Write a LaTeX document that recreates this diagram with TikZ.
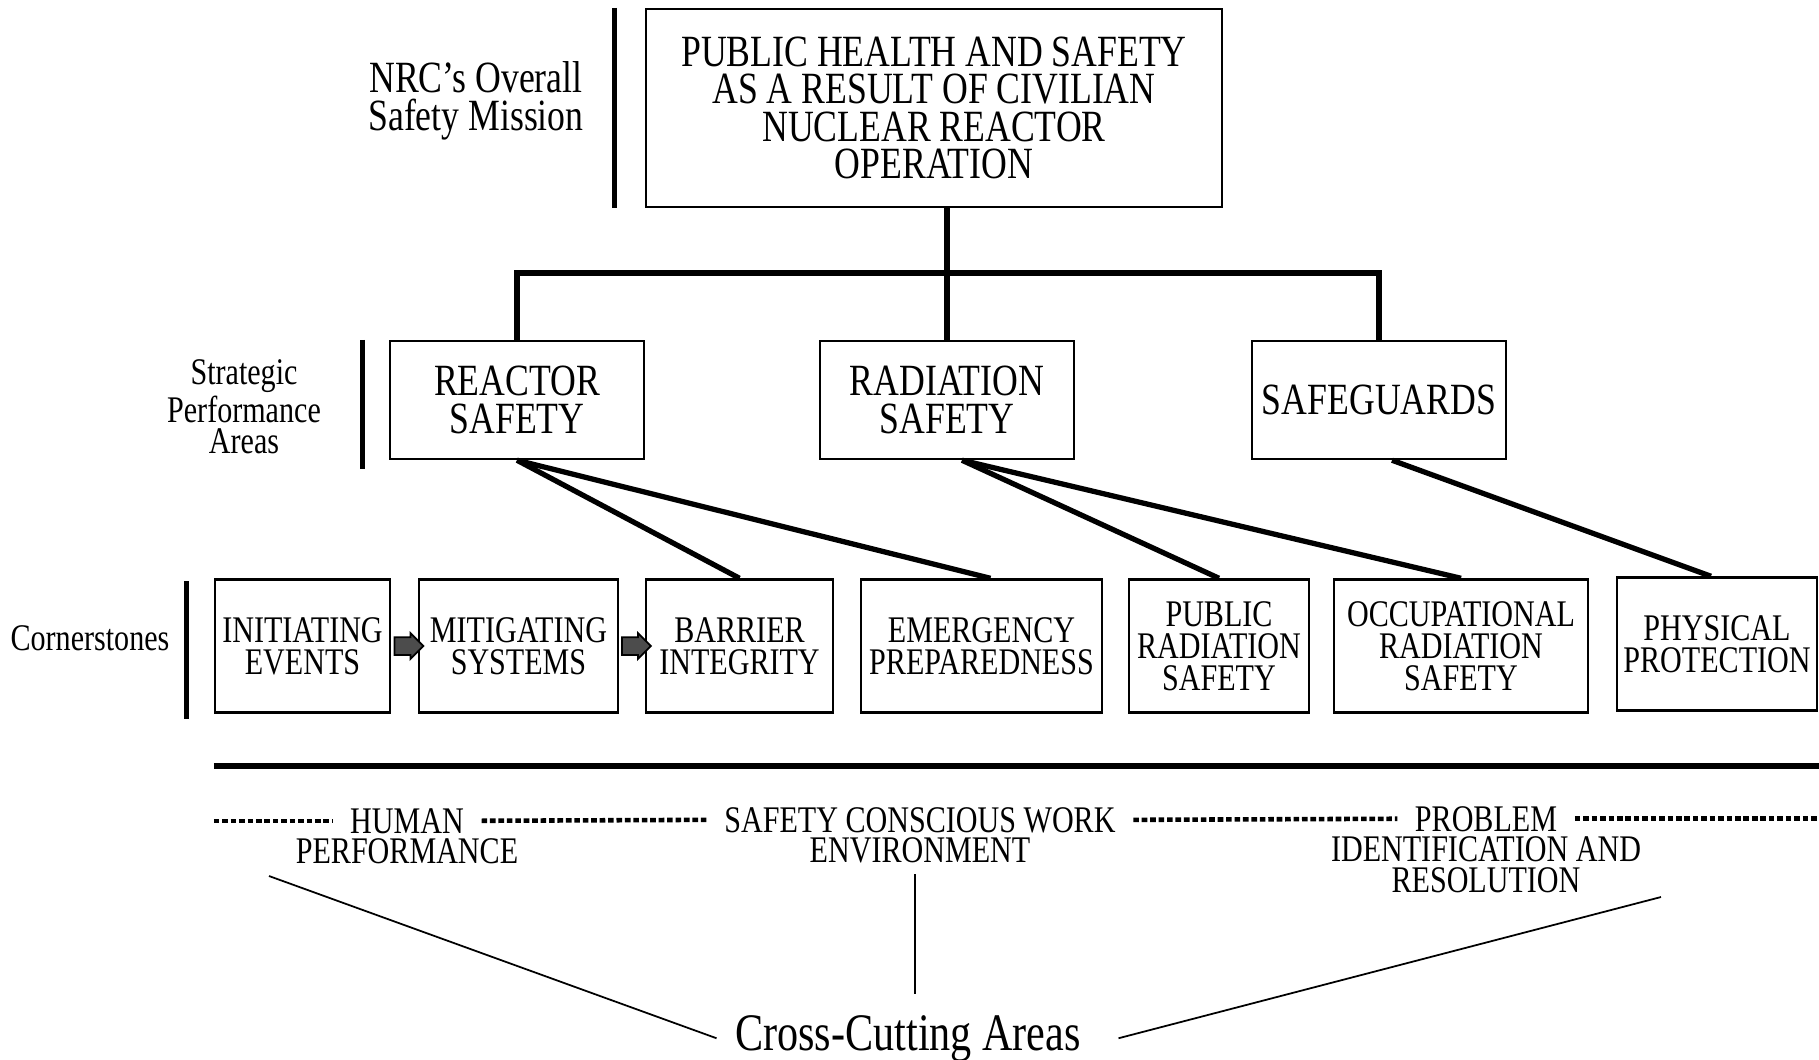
\documentclass[tikz,border=0pt]{standalone}
\usepackage{fontspec}
\setmainfont{Liberation Serif}[FakeStretch=0.8]
\usetikzlibrary{positioning,shapes.arrows,calc}

\tikzset{
  bigtext/.style={font=\fontsize{12.7}{10.7}\selectfont},
  smalltext/.style={font=\fontsize{10.7}{9.1}\selectfont},
  areabox/.style={draw, line width=0.7pt, align=center, inner sep=0pt, minimum width=2.54cm, minimum height=1.18cm, bigtext},
  stonebox/.style={draw, line width=0.7pt, align=center, inner sep=0pt, minimum height=1.33cm, smalltext},
  link/.style={line width=1.5pt},
  thinlink/.style={line width=0.5pt},
  levelbar/.style={line width=1.4pt},
  dashline/.style={line width=1.3pt, dash pattern=on 1.6pt off 0.8pt},
  blockarrow/.style={single arrow, draw, fill=black!70, line width=0.5pt, minimum height=2.9mm, inner sep=0.8mm, single arrow head extend=0.4mm},
  crosstext/.style={smalltext, anchor=base, inner xsep=1.7mm, inner ysep=0pt}
}

\begin{document}
\begin{tikzpicture}
  \useasboundingbox (0,0) rectangle (18.19,-10.59);

  % Overall safety mission
  \node[draw, line width=0.7pt, minimum width=5.76cm, minimum height=1.98cm, align=center, inner sep=0pt, bigtext] (mission) at (9.34,-1.08) {PUBLIC HEALTH AND SAFETY\\AS A RESULT OF CIVILIAN\\NUCLEAR REACTOR\\OPERATION};
  \draw[levelbar] ([xshift=-3mm]mission.north west) -- ([xshift=-3mm]mission.south west);
  \node[bigtext, align=center] (missionlbl) at (4.76,-1.01) {NRC's Overall\\Safety Mission};

  % Strategic performance areas
  \node[areabox] (reactor) at (5.17,-4.0) {REACTOR\\SAFETY};
  \node[areabox] (radiation) at (9.47,-4.0) {RADIATION\\SAFETY};
  \node[areabox] (safeguards) at (13.79,-4.0) {SAFEGUARDS};
  \draw[levelbar] ([xshift=-2.6mm]reactor.north west) -- ([xshift=-2.6mm,yshift=-0.9mm]reactor.south west);
  \node[font=\fontsize{10.7}{8.9}\selectfont, align=center] (arealbl) at (2.44,-4.07) {Strategic\\Performance\\Areas};

  % Tree from the mission box
  \coordinate (branch) at (9.47,-2.73);
  \draw[link] (mission.south -| radiation.north) -- (radiation.north);
  \draw[link] (reactor.north) |- (branch) -| (safeguards.north);

  % Cornerstones
  \node[stonebox, minimum width=1.75cm] (initiating) at (3.025,-6.46) {INITIATING\\EVENTS};
  \node[stonebox, minimum width=1.99cm] (mitigating) at (5.185,-6.46) {MITIGATING\\SYSTEMS};
  \node[stonebox, minimum width=1.87cm] (barrier) at (7.395,-6.46) {BARRIER\\INTEGRITY};
  \node[stonebox, minimum width=2.41cm] (emergency) at (9.815,-6.46) {EMERGENCY\\PREPAREDNESS};
  \node[stonebox, minimum width=1.80cm] (pubrad) at (12.19,-6.46) {PUBLIC\\RADIATION\\SAFETY};
  \node[stonebox, minimum width=2.54cm] (occrad) at (14.61,-6.46) {OCCUPATIONAL\\RADIATION\\SAFETY};
  \node[stonebox, minimum width=2.00cm] (physical) at (17.17,-6.44) {PHYSICAL\\PROTECTION};
  \draw[levelbar] ([xshift=-2.7mm,yshift=-0.3mm]initiating.north west) -- ([xshift=-2.7mm,yshift=-0.5mm]initiating.south west);
  \node[smalltext] (stonelbl) at (0.90,-6.38) {Cornerstones};

  % Block arrows between reactor cornerstones
  \node[blockarrow] (arrowim) at ($(initiating.east)!0.5!(mitigating.west)$) {};
  \node[blockarrow] (arrowmb) at ($(mitigating.east)!0.5!(barrier.west)$) {};

  % Links from areas to cornerstones
  \draw[link] (reactor.south) -- (barrier.north);
  \draw[link] (reactor.south) -- ([xshift=0.9mm]emergency.north);
  \draw[link] ([xshift=1.5mm]radiation.south) -- (pubrad.north);
  \draw[link] ([xshift=1.5mm]radiation.south) -- (occrad.north);
  \draw[link] ([xshift=1.3mm]safeguards.south) -- ([xshift=-0.6mm]physical.north);

  % Separating rule
  \coordinate (ruleend) at (18.19,-7.66);
  \draw[line width=1.8pt] (initiating.west |- ruleend) -- (ruleend);

  % Cross-cutting issues
  \node[crosstext] (human) at (4.07,-8.33) {HUMAN};
  \node[crosstext] (humanrest) at ([yshift=-3mm]human.base) {PERFORMANCE};
  \node[crosstext] (scwe) at (9.20,-8.32) {SAFETY CONSCIOUS WORK};
  \node[crosstext] (scwerest) at ([yshift=-3mm]scwe.base) {ENVIRONMENT};
  \node[crosstext] (prob) at (14.86,-8.31) {PROBLEM};
  \node[crosstext] (probrest) at ([yshift=-3mm]prob.base) {IDENTIFICATION AND};
  \node[crosstext] (probend) at ([yshift=-6.1mm]prob.base) {RESOLUTION};
  \draw[dashline] (human.west -| initiating.west) -- (human.west);
  \draw[dashline] (human.east) -- (scwe.west);
  \draw[dashline] (scwe.east) -- (prob.west);
  \draw[dashline] (prob.east) -- (prob.east -| ruleend);

  % Cross-cutting label with its three legs
  \node[font=\fontsize{15}{15}\selectfont, anchor=base, inner xsep=1.8mm, inner ysep=2mm] (cca) at (9.08,-10.50) {Cross-Cutting Areas};
  \coordinate (humanfoot) at (2.69,-8.76);
  \coordinate (scwefoot) at (9.15,-8.74);
  \coordinate (probfoot) at (16.61,-8.97);
  \draw[thinlink] (humanfoot) -- (cca.west);
  \draw[thinlink] (scwefoot) -- (scwefoot |- cca.north);
  \draw[thinlink] (probfoot) -- ([xshift=1.9mm]cca.east);
\end{tikzpicture}
\end{document}
